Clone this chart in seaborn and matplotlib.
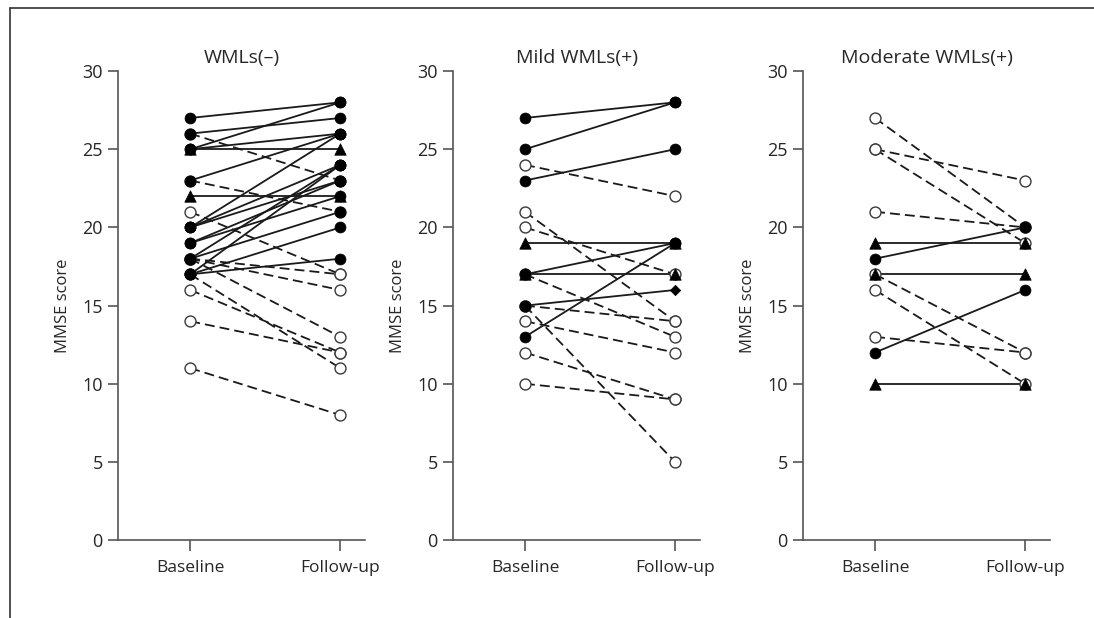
import pandas as pd
import matplotlib
matplotlib.use("Agg")
import matplotlib.pyplot as plt
from matplotlib.lines import Line2D
import seaborn as sns

# Dati: (baseline, follow-up), tipo di linea, marcatori agli estremi
# marcatori: f = cerchio pieno, o = cerchio vuoto, t = triangolo, d = rombo
titles = ["WMLs(–)", "Mild WMLs(+)", "Moderate WMLs(+)"]
time_labels = ["Baseline", "Follow-up"]

p1_base = [27, 26, 25, 25, 23, 20, 20, 20, 19, 18, 19, 18, 17, 17, 17,
           25, 22,
           26, 23, 21, 18, 18, 18, 16, 14, 17, 11]
p1_follow = [28, 27, 28, 26, 26, 26, 24, 23, 23, 24, 22, 21, 24, 20, 18,
             25, 22,
             23, 21, 17, 17, 16, 13, 12, 12, 11, 8]
p1_line = ["solid"] * 17 + ["dashed"] * 10
p1_mark_b = ["f"] * 15 + ["t"] * 2 + ["o"] * 10
p1_mark_f = ["f"] * 15 + ["t"] * 2 + ["o"] * 10

p2_base = [27, 25, 23, 17, 13, 15,
           19, 17,
           24, 21, 20, 17, 15, 15, 14, 12, 10]
p2_follow = [28, 28, 25, 19, 19, 16,
             19, 17,
             22, 14, 17, 13, 14, 5, 12, 9, 9]
p2_line = ["solid"] * 8 + ["dashed"] * 9
p2_mark_b = ["f"] * 6 + ["t"] * 2 + ["o"] * 9
p2_mark_f = ["f"] * 5 + ["d"] + ["t"] * 2 + ["o"] * 9

p3_base = [18, 12,
           19, 17, 10,
           27, 25, 25, 21, 17, 16, 13]
p3_follow = [20, 16,
             19, 17, 10,
             20, 23, 19, 20, 12, 10, 12]
p3_line = ["solid"] * 5 + ["dashed"] * 7
p3_mark_b = ["f"] * 2 + ["t"] * 3 + ["o"] * 7
p3_mark_f = ["f"] * 2 + ["t"] * 3 + ["o"] * 7

panels = [
    (p1_base, p1_follow, p1_line, p1_mark_b, p1_mark_f),
    (p2_base, p2_follow, p2_line, p2_mark_b, p2_mark_f),
    (p3_base, p3_follow, p3_line, p3_mark_b, p3_mark_f),
]

sns.set_style("ticks")
plt.rcParams["font.family"] = ["Open Sans", "DejaVu Sans"]

axis_col = "#555555"
line_col = "#1a1a1a"

fig = plt.figure(figsize=(10.94, 6.18), dpi=100)
lefts = [0.108, 0.414, 0.734]

for i, (base, follow, kind, mb, mf) in enumerate(panels):
    ax = fig.add_axes([lefts[i], 0.126, 0.226, 0.759])

    righe = []
    punti = []
    for j in range(len(base)):
        righe.append({"subj": j, "time": 0, "score": base[j], "kind": kind[j]})
        righe.append({"subj": j, "time": 1, "score": follow[j], "kind": kind[j]})
        punti.append({"time": 0, "score": base[j], "mark": mb[j]})
        punti.append({"time": 1, "score": follow[j], "mark": mf[j]})
    df = pd.DataFrame(righe)
    dp = pd.DataFrame(punti)

    sns.lineplot(data=df, x="time", y="score", units="subj", estimator=None,
                 style="kind", dashes={"solid": "", "dashed": (5.5, 2.8)},
                 color=line_col, linewidth=1.3, legend=False, ax=ax)

    # prima i cerchi vuoti, poi i marcatori pieni sopra
    sns.scatterplot(data=dp[dp["mark"] == "o"], x="time", y="score", marker="o",
                    s=62, facecolor="white", edgecolor="#3a3a3a", linewidth=1.0,
                    ax=ax, zorder=3, clip_on=False)
    sns.scatterplot(data=dp[dp["mark"] == "f"], x="time", y="score", marker="o",
                    s=62, color="black", edgecolor="black", linewidth=0.5,
                    ax=ax, zorder=4, clip_on=False)
    sns.scatterplot(data=dp[dp["mark"] == "t"], x="time", y="score", marker="^",
                    s=68, color="black", edgecolor="black", linewidth=0.5,
                    ax=ax, zorder=4, clip_on=False)
    sns.scatterplot(data=dp[dp["mark"] == "d"], x="time", y="score", marker="D",
                    s=28, color="black", edgecolor="black", linewidth=0.5,
                    ax=ax, zorder=4, clip_on=False)

    ax.set_xlim(-0.48, 1.167)
    ax.set_ylim(0, 30)
    ax.set_yticks(range(0, 31, 5))
    ax.set_xticks([0, 1])
    ax.set_xticklabels(time_labels)
    ax.set_xlabel("")
    ax.set_ylabel("MMSE score", fontsize=12, labelpad=8)
    ax.set_title(titles[i], fontsize=14, pad=6)

    for s in ["top", "right"]:
        ax.spines[s].set_visible(False)
    for s in ["left", "bottom"]:
        ax.spines[s].set_color(axis_col)
        ax.spines[s].set_linewidth(1.2)
    ax.tick_params(axis="y", length=7, width=1.2, color=axis_col, labelsize=13, pad=4)
    ax.tick_params(axis="x", length=8, width=1.2, color=axis_col, labelsize=12.5, pad=6)

# cornice esterna (in alto e a sinistra)
fig.add_artist(Line2D([0.009, 1.0], [0.987, 0.987], color="#333333", linewidth=1.2))
fig.add_artist(Line2D([0.009, 0.009], [0.0, 0.987], color="#333333", linewidth=1.2))

fig.savefig("out.png", dpi=100)
